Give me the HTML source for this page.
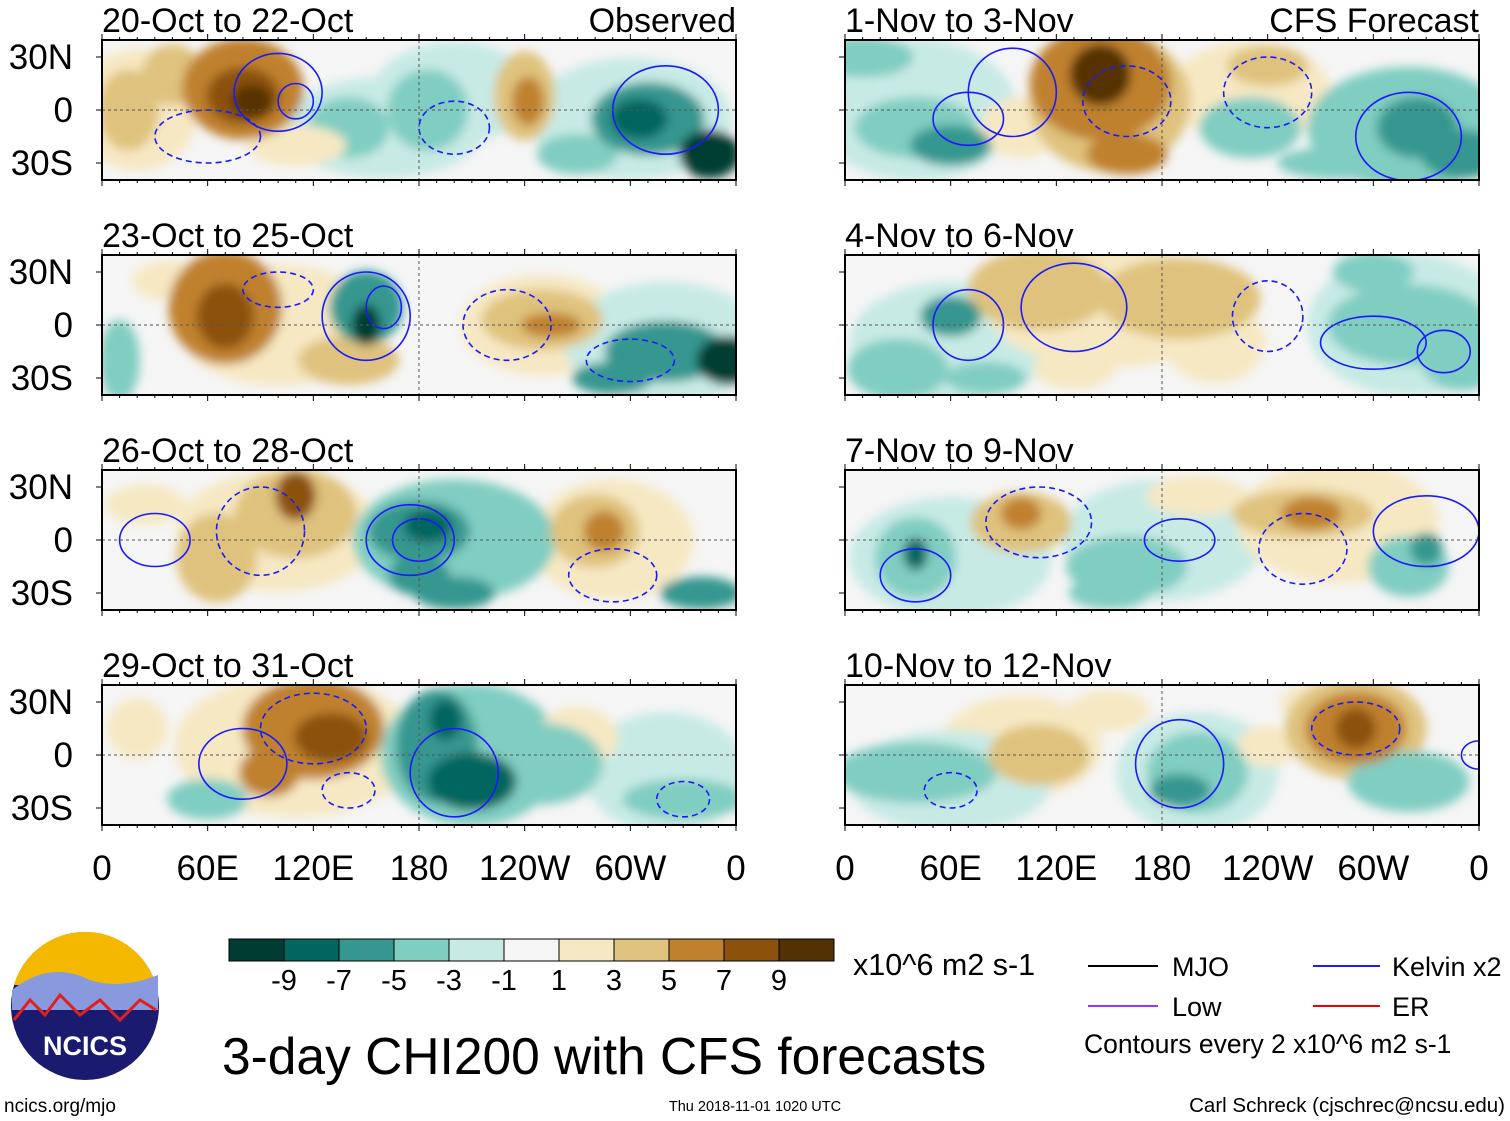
<!DOCTYPE html>
<html><head><meta charset="utf-8">
<style>
body{margin:0;background:#fff;font-family:"Liberation Sans",Arial,sans-serif;}
svg{display:block}
text{font-family:"Liberation Sans",Arial,sans-serif}
</style></head>
<body>
<svg id="fig" width="1510" height="1121" viewBox="0 0 1510 1121">
<defs>
<filter id="blur" x="-20%" y="-40%" width="140%" height="180%"><feGaussianBlur stdDeviation="5"/></filter>
<clipPath id="cp"><rect x="0" y="0" width="634" height="140"/></clipPath>
</defs>
</svg>
<script>
const svg=document.getElementById('fig');
const NS='http://www.w3.org/2000/svg';
function el(tag,attrs,parent){const e=document.createElementNS(NS,tag);for(const k in attrs)e.setAttribute(k,attrs[k]);(parent||svg).appendChild(e);return e;}

const levels=[-9,-7,-5,-3,-1,1,3,5,7,9];
const colors=['#013c32','#01665e','#35978f','#80cdc1','#c7eae5','#f5f5f5','#f6e8c3','#dfc27d','#bf812d','#8c510a','#543005'];
const colorTicks=['-9','-7','-5','-3','-1','1','3','5','7','9'];
function colorOf(v){let i=0;while(i<levels.length&&v>levels[i])i++;return colors[i];}

const panelTitles=['20-Oct to 22-Oct','23-Oct to 25-Oct','26-Oct to 28-Oct','29-Oct to 31-Oct','1-Nov to 3-Nov','4-Nov to 6-Nov','7-Nov to 9-Nov','10-Nov to 12-Nov'];
const lonTicks=['0','60E','120E','180','120W','60W','0'];
const latTicks=['30N','0','30S'];
// anomaly blobs per panel: [lon, lat, lonRadius, latRadius, value]
const blobs=[
[[20,0,30,30,2],[160,-10,50,25,-2],[200,10,40,25,-2],[300,-5,50,30,-2],[80,12,30,25,6],[80,8,18,14,8],[85,5,10,8,10],[40,20,15,15,4],[15,0,15,20,4],[240,8,15,22,5],[242,5,8,12,7],[310,-5,28,18,-6],[305,-5,14,10,-8],[345,-25,15,12,-9],[185,0,20,20,-4],[140,-10,20,15,-3],[270,-25,20,10,-3],[110,-20,25,10,3]],
[[100,0,50,30,3],[250,0,40,25,2],[320,-10,50,30,-2],[70,10,28,28,6],[70,5,14,16,9],[140,-20,25,12,4],[150,10,18,18,-5],[150,0,7,10,-10],[250,3,30,15,5],[255,0,15,6,7],[320,-15,30,15,-6],[355,-20,15,12,-9],[290,-30,20,8,-5],[10,-20,10,20,-4],[40,25,20,10,3]],
[[100,5,50,30,3],[200,0,50,30,-3],[290,0,40,30,2],[110,15,30,22,5],[110,25,10,12,8],[65,-10,20,22,5],[180,5,25,15,-6],[185,8,12,8,-8],[200,-30,20,8,-5],[180,-20,15,10,-5],[280,5,22,18,5],[285,5,10,10,7],[340,-30,20,8,-5],[25,20,20,10,3],[220,-10,25,15,-3]],
[[110,5,60,35,3],[210,0,45,35,-3],[320,-10,40,30,-2],[120,15,35,25,6],[130,10,18,12,9],[95,-10,15,12,6],[190,5,20,28,-5],[195,20,8,10,-8],[210,-15,22,14,-7],[250,-5,30,20,-4],[60,-25,20,10,-4],[330,-25,30,10,-3],[270,10,20,15,3],[20,15,15,15,3]],
[[40,0,50,35,-2],[150,5,40,35,4],[320,-10,50,30,-3],[230,10,40,25,2],[145,15,35,28,7],[145,20,15,15,10],[160,-25,20,10,7],[100,-10,20,15,3],[40,-10,30,15,-4],[60,-20,20,10,-5],[230,-10,25,15,-3],[325,-10,20,15,-5],[350,-25,20,12,-5],[240,25,20,10,4],[10,30,25,10,-3],[280,-30,30,8,-3]],
[[60,-10,50,30,-2],[150,10,60,30,3],[320,0,50,35,-2],[110,20,35,20,4],[190,15,40,20,4],[210,-10,25,20,3],[130,-25,20,10,3],[30,-25,25,15,-4],[60,5,15,10,-5],[320,0,40,20,-3],[350,-20,20,15,-4],[300,30,20,10,-3],[80,-30,20,8,-3]],
[[60,-10,50,30,-2],[180,0,50,30,-2],[280,10,50,30,2],[100,10,25,15,4],[100,15,10,8,6],[260,15,35,12,4],[265,15,15,8,6],[40,-10,20,20,-4],[40,-8,6,8,-7],[160,-15,30,15,-3],[320,-15,20,15,-4],[330,-5,8,8,-6],[200,25,25,10,3],[150,-30,20,8,-3]],
[[290,15,35,25,4],[100,5,40,25,2],[60,-15,50,25,-2],[200,-10,40,30,-2],[290,15,25,18,6],[290,15,10,10,8],[110,0,25,15,4],[200,-10,25,20,-4],[190,-20,15,8,-6],[40,-10,40,15,-3],[320,-15,30,15,-4],[270,30,20,10,3],[240,5,15,10,3],[150,25,20,10,3]]
];
// contours: [lon, lat, rx(deg), ry(deg), dashed(0/1)]
const contours=[
[[100,10,25,22,0],[110,5,10,10,0],[320,0,30,25,0],[200,-10,20,15,1],[60,-15,30,15,1]],
[[150,5,25,25,0],[160,10,10,12,0],[230,0,25,20,1],[100,20,20,10,1],[300,-20,25,12,1]],
[[30,0,20,15,0],[175,0,25,20,0],[180,0,15,12,0],[90,5,25,25,1],[290,-20,25,15,1]],
[[80,-5,25,20,0],[200,-10,25,25,0],[120,15,30,20,1],[140,-20,15,10,1],[330,-25,15,10,1]],
[[70,-5,20,15,0],[95,10,25,25,0],[160,5,25,20,1],[240,10,25,20,1],[320,-15,30,25,0]],
[[70,0,20,20,0],[130,10,30,25,0],[240,5,20,20,1],[300,-10,30,15,0],[340,-15,15,12,0]],
[[40,-20,20,15,0],[110,10,30,20,1],[190,0,20,12,0],[260,-5,25,20,1],[330,5,30,20,0]],
[[190,-5,25,25,0],[60,-20,15,10,1],[290,15,25,15,1],[360,0,10,8,0]]
];

const px0=[102,102,102,102,845,845,845,845];
const py0=[40,255,470,685,40,255,470,685];
const W=634,H=140;
function xOf(lon){return lon/360*W;}
function yOf(lat){return 70-lat*53/30;}

for(let p=0;p<8;p++){
  const g=el('g',{transform:`translate(${px0[p]},${py0[p]})`});
  
  
  el('rect',{x:0,y:0,width:W,height:H,fill:'#f5f5f5'},g);
  const inner=el('g',{'clip-path':'url(#cp)'},g);
  const fg=el('g',{filter:'url(#blur)'},inner);
  const sorted=blobs[p].slice().sort((a,b)=>Math.abs(a[4])-Math.abs(b[4]));
  sorted.forEach(b=>{
    const e=el('ellipse',{cx:xOf(b[0]),cy:yOf(b[1]),rx:xOf(b[2])*1.15,ry:b[3]*53/30*1.15,fill:colorOf(b[4])},fg);
    
    
  });
  contours[p].forEach(c=>{
    const e=el('ellipse',{cx:xOf(c[0]),cy:yOf(c[1]),rx:xOf(c[2]),ry:c[3]*53/30,fill:'none',stroke:'#1a1aff','stroke-width':1.6,'stroke-dasharray':c[4]?'6,4':'none'},inner);
    
    
  });
  el('line',{x1:0,x2:W,y1:yOf(0),y2:yOf(0),stroke:'#555','stroke-dasharray':'3,3','stroke-width':1},g);
  el('line',{x1:xOf(180),x2:xOf(180),y1:0,y2:H,stroke:'#555','stroke-dasharray':'3,3','stroke-width':1},g);
  el('rect',{x:0,y:0,width:W,height:H,fill:'none',stroke:'#000','stroke-width':2},g);
  for(let l=0;l<=360;l+=10){const len=l%60==0?6:3;
    el('line',{x1:xOf(l),x2:xOf(l),y1:0,y2:-len,stroke:'#000'},g);
    el('line',{x1:xOf(l),x2:xOf(l),y1:H,y2:H+len,stroke:'#000'},g);}
  [30,0,-30].forEach(la=>{el('line',{x1:0,x2:-6,y1:yOf(la),y2:yOf(la),stroke:'#000'},g);});
  const t=el('text',{x:0,y:-8,'font-size':34},g);t.textContent=panelTitles[p];
  
  if(p<4){latTicks.forEach((s,i)=>{const tt=el('text',{x:-29,y:yOf([30,0,-30][i])+12,'font-size':35,'text-anchor':'end'},g);tt.textContent=s;
    });}
  if(p==0||p==4){const h=el('text',{x:W,y:-8,'font-size':34,'text-anchor':'end'},g);h.textContent=p==0?'Observed':'CFS Forecast';
    }
  if(p==3||p==7){lonTicks.forEach((s,i)=>{const tt=el('text',{x:xOf(i*60),y:H+55,'font-size':35,'text-anchor':'middle'},g);tt.textContent=s;
    });}
}

const cb=el('g',{});

const bw=55;
colors.forEach((c,i)=>{el('rect',{x:229+i*bw,y:939,width:bw,height:22,fill:c,stroke:'#000','stroke-width':1},cb);});
colorTicks.forEach((s,i)=>{const t=el('text',{x:229+(i+1)*bw,y:990,'font-size':29,'text-anchor':'middle'},cb);t.textContent=s;});
</script>
<svg width="1510" height="1121" style="position:absolute;left:0;top:0">
<text x="853" y="975" font-size="30.5">x10^6 m2 s-1</text>
<g>
<line x1="1088" x2="1158" y1="966" y2="966" stroke="#000" stroke-width="2"/><text x="1172" y="976" font-size="27">MJO</text>
<line x1="1088" x2="1158" y1="1006" y2="1006" stroke="#9933ff" stroke-width="2"/><text x="1172" y="1016" font-size="27">Low</text>
<line x1="1313" x2="1380" y1="966" y2="966" stroke="#1a1aff" stroke-width="2"/><text x="1392" y="976" font-size="27">Kelvin x2</text>
<line x1="1313" x2="1380" y1="1006" y2="1006" stroke="#e00" stroke-width="2"/><text x="1392" y="1016" font-size="27">ER</text>
<text x="1084" y="1053" font-size="26.5">Contours every 2 x10^6 m2 s-1</text>
</g>
<text x="222" y="1074" font-size="51.5">3-day CHI200 with CFS forecasts</text>
<g>
<circle cx="85" cy="1006" r="74" fill="#1a1a6e"/>
<path d="M14 985 A74 74 0 0 1 156 985 Z" fill="#f5b800"/>
<path d="M12 990 Q50 960 90 980 Q120 990 158 975 L158 1010 L12 1010 Z" fill="#8899dd"/>
<path d="M14 1020 L30 1000 L45 1015 L60 995 L80 1015 L100 1000 L120 1020 L140 1000 L156 1010" fill="none" stroke="#e02020" stroke-width="3"/>
<text x="85" y="1055" font-size="27" font-weight="bold" fill="#fff" text-anchor="middle">NCICS</text>
</g>
<text x="4" y="1112" font-size="19">ncics.org/mjo</text>
<text x="755" y="1111" font-size="14.5" text-anchor="middle">Thu 2018-11-01 1020 UTC</text>
<text x="1505" y="1112" font-size="20.5" text-anchor="end">Carl Schreck (cjschrec@ncsu.edu)</text>
</svg>
</body></html>
